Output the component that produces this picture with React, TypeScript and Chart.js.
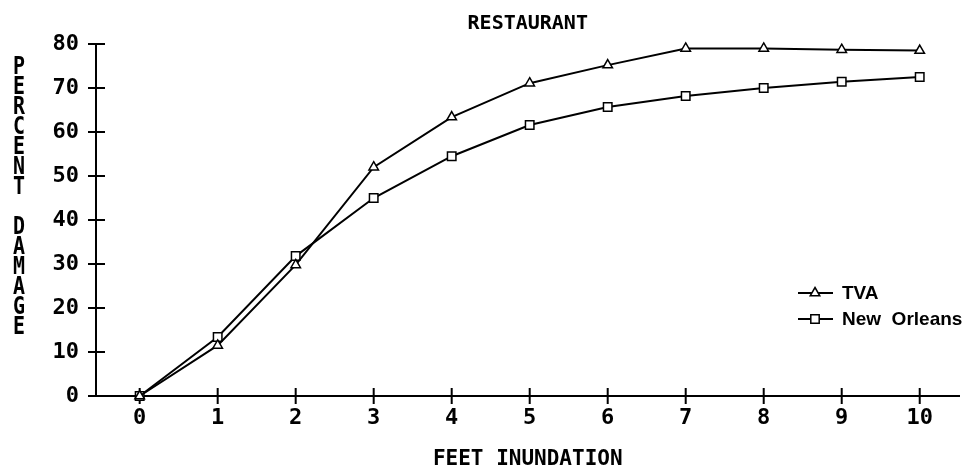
import React, { useEffect, useRef } from 'react';
import { Chart, registerables } from 'chart.js';

Chart.register(...registerables);

const FEET = [0, 1, 2, 3, 4, 5, 6, 7, 8, 9, 10];
const TVA = [0, 11.5, 29.8, 52, 63.4, 71.1, 75.2, 79, 79, 78.7, 78.5];
const NEW_ORLEANS = [0, 13.4, 31.8, 45, 54.5, 61.6, 65.7, 68.2, 70, 71.4, 72.5];
const Y_TICKS = [0, 10, 20, 30, 40, 50, 60, 70, 80];
const X_TICKS = FEET;
const TITLE = 'RESTAURANT';
const X_TITLE = 'FEET INUNDATION';
const Y_TITLE = 'PERCENT DAMAGE';
const SERIES_NAMES = ['TVA', 'New  Orleans'];

const MONO = '"DejaVu Sans Mono", monospace';
const SANS = '"Liberation Sans", Arial, sans-serif';

function drawMarker(ctx: CanvasRenderingContext2D, style: string, x: number, y: number) {
  ctx.save();
  ctx.fillStyle = '#fff';
  ctx.strokeStyle = '#000';
  ctx.lineWidth = 1.5;
  ctx.beginPath();
  if (style === 'triangle') {
    const r = 5.5;
    ctx.moveTo(x, y - r);
    ctx.lineTo(x + r * 0.87, y + r * 0.5);
    ctx.lineTo(x - r * 0.87, y + r * 0.5);
    ctx.closePath();
  } else {
    const s = 4.2;
    ctx.rect(x - s, y - s, 2 * s, 2 * s);
  }
  ctx.fill();
  ctx.stroke();
  ctx.restore();
}

const extras = {
  id: 'extras',
  beforeDatasetsDraw(chart: any) {
    const { ctx, scales, chartArea } = chart;
    const xs = scales.x;
    const ys = scales.y;
    ctx.save();
    ctx.strokeStyle = '#000';
    ctx.lineWidth = 2;
    ctx.beginPath();
    for (const v of Y_TICKS) {
      const py = ys.getPixelForValue(v);
      ctx.moveTo(chartArea.left - 8, py);
      ctx.lineTo(chartArea.left + 9, py);
    }
    for (const v of X_TICKS) {
      const px = xs.getPixelForValue(v);
      ctx.moveTo(px, chartArea.bottom - 8);
      ctx.lineTo(px, chartArea.bottom + 8);
    }
    ctx.stroke();
    ctx.restore();
  },
  afterDraw(chart: any) {
    const { ctx } = chart;
    ctx.save();
    ctx.fillStyle = '#000';
    ctx.textAlign = 'center';
    ctx.textBaseline = 'middle';
    ctx.font = `bold 19px ${MONO}`;
    const chars = Array.from(Y_TITLE);
    chars.forEach((ch, i) => {
      if (ch === ' ') return;
      ctx.save();
      ctx.translate(19, 68 + i * 20);
      ctx.scale(1.05, 1.3);
      ctx.fillText(ch, 0, 0);
      ctx.restore();
    });

    // legend
    const styles = ['triangle', 'rect'];
    const rows = [293, 319];
    SERIES_NAMES.forEach((name, i) => {
      const y = rows[i];
      ctx.strokeStyle = '#000';
      ctx.lineWidth = 2;
      ctx.beginPath();
      ctx.moveTo(798, y);
      ctx.lineTo(833, y);
      ctx.stroke();
      drawMarker(ctx, styles[i], 815, y);
      ctx.fillStyle = '#000';
      ctx.textAlign = 'left';
      ctx.font = `bold 19px ${SANS}`;
      ctx.fillText(name, 842, y + 1);
    });
    ctx.restore();
  },
};

export default function App() {
  const ref = useRef<HTMLCanvasElement | null>(null);

  useEffect(() => {
    if (!ref.current) return;
    const chart = new Chart(ref.current, {
      type: 'line',
      data: {
        datasets: [
          {
            label: SERIES_NAMES[0],
            data: FEET.map((f, i) => ({ x: f, y: TVA[i] })),
            borderColor: '#000',
            borderWidth: 2,
            backgroundColor: '#fff',
            pointStyle: 'triangle',
            pointRadius: 5.5,
            pointBorderWidth: 1.5,
            pointBorderColor: '#000',
            pointBackgroundColor: '#fff',
            tension: 0,
            clip: false as any,
          },
          {
            label: SERIES_NAMES[1],
            data: FEET.map((f, i) => ({ x: f, y: NEW_ORLEANS[i] })),
            borderColor: '#000',
            borderWidth: 2,
            backgroundColor: '#fff',
            pointStyle: 'rect',
            pointRadius: 6,
            pointBorderWidth: 1.5,
            pointBorderColor: '#000',
            pointBackgroundColor: '#fff',
            tension: 0,
            clip: false as any,
          },
        ],
      },
      options: {
        animation: false,
        responsive: false,
        maintainAspectRatio: false,
        devicePixelRatio: 1,
        layout: { padding: { left: 0, right: -7, top: 0, bottom: 0 } },
        plugins: {
          legend: { display: false },
          tooltip: { enabled: false },
          title: {
            display: true,
            text: TITLE,
            fullSize: false,
            color: '#000',
            font: { family: MONO, size: 20, weight: 'bold' },
            padding: { top: 12, bottom: 8 },
          },
        },
        scales: {
          x: {
            type: 'linear',
            min: -0.56,
            max: 10.51,
            afterBuildTicks: (s: any) => {
              s.ticks = X_TICKS.map((v) => ({ value: v }));
            },
            afterFit: (s: any) => {
              s.height = 79;
              s.paddingRight = 0;
              s.paddingLeft = 0;
            },
            grid: { display: false, drawTicks: false },
            border: { display: true, color: '#000', width: 2 },
            ticks: {
              color: '#000',
              autoSkip: false,
              maxRotation: 0,
              padding: 9,
              font: { family: MONO, size: 22, weight: 'bold' },
            },
            title: {
              display: true,
              text: X_TITLE,
              color: '#000',
              font: { family: MONO, size: 21, weight: 'bold' },
              padding: { top: 0, bottom: 3 },
            },
          },
          y: {
            type: 'linear',
            min: 0,
            max: 80,
            afterBuildTicks: (s: any) => {
              s.ticks = Y_TICKS.map((v) => ({ value: v }));
            },
            afterFit: (s: any) => {
              s.width = 96;
              s.paddingTop = 0;
              s.paddingBottom = 0;
            },
            grid: { display: false, drawTicks: false },
            border: { display: true, color: '#000', width: 2 },
            ticks: {
              color: '#000',
              autoSkip: false,
              padding: 17,
              font: { family: MONO, size: 22, weight: 'bold' },
            },
          },
        },
      },
      plugins: [extras],
    });
    return () => chart.destroy();
  }, []);

  return (
    <div style={{ position: 'fixed', left: 0, top: 0, width: 967, height: 475, background: '#fff' }}>
      <canvas ref={ref} width={967} height={475} style={{ display: 'block' }} />
    </div>
  );
}
